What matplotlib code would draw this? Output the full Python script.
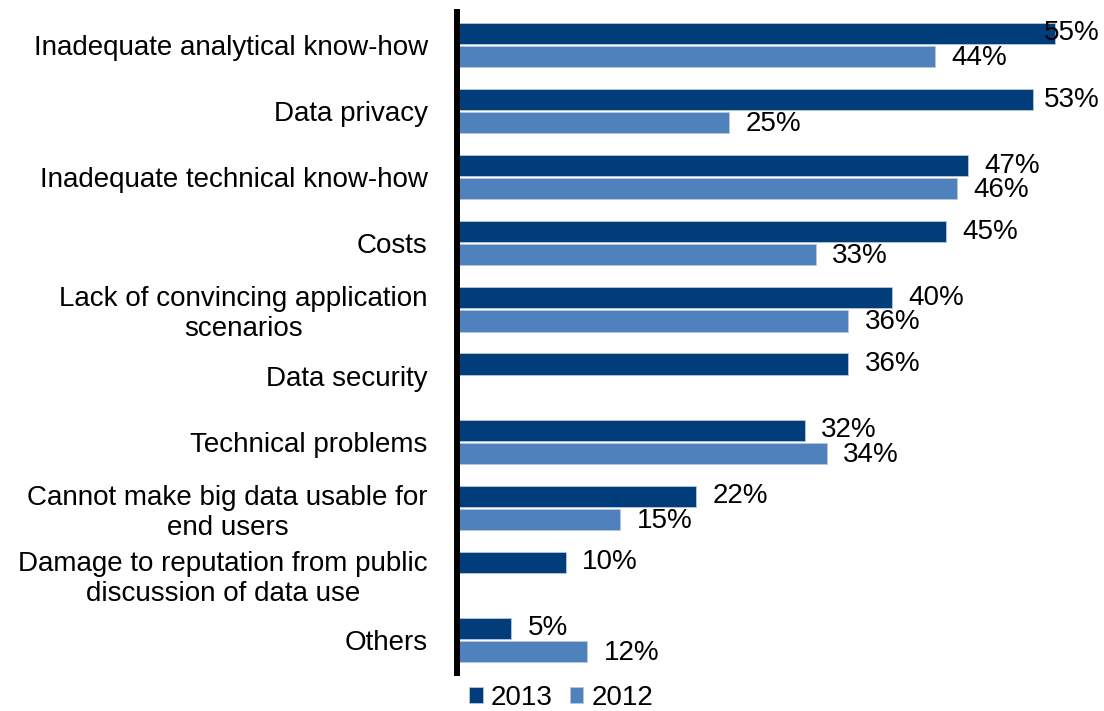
import matplotlib
matplotlib.use("Agg")
import matplotlib.pyplot as plt
import numpy as np

plt.rcParams["font.family"] = ["Liberation Sans", "DejaVu Sans"]

categories = [
    "Inadequate analytical know-how",
    "Data privacy",
    "Inadequate technical know-how",
    "Costs",
    "Lack of convincing application\nscenarios",
    "Data security",
    "Technical problems",
    "Cannot make big data usable for\nend users",
    "Damage to reputation from public\ndiscussion of data use",
    "Others",
]
values_2013 = [55, 53, 47, 45, 40, 36, 32, 22, 10, 5]
values_2012 = [44, 25, 46, 33, 36, None, 34, 15, None, 12]

dark = "#023d7b"
light = "#4f81bd"

fig = plt.figure(figsize=(11.04, 7.11), dpi=100)
ax = fig.add_axes([457 / 1104, 38 / 711, 647 / 1104, 661 / 711])

y = np.arange(len(categories))
h = 0.32
gap = 0.015
xmax = 59.5

ax.barh(y - h / 2 - gap, values_2013, height=h, color=dark,
        edgecolor="#b8c8dc", linewidth=0.6, label="2013")
vals12 = [v if v is not None else 0 for v in values_2012]
bars12 = ax.barh(y + h / 2 + gap, vals12, height=h, color=light,
                 edgecolor="#b8c8dc", linewidth=0.6, label="2012")
for b, v in zip(bars12, values_2012):
    if v is None:
        b.set_visible(False)

# value labels next to the bar ends
for yi, v in zip(y, values_2013):
    x = min(v + 1.5, xmax - 5.5)
    ax.text(x, yi - h / 2 - gap, f"{v}%", va="center", ha="left", fontsize=20)
for yi, v in zip(y, values_2012):
    if v is None:
        continue
    ax.text(v + 1.5, yi + h / 2 + gap + 0.02, f"{v}%", va="center", ha="left",
            fontsize=20)

ax.set_xlim(0, xmax)
ax.set_ylim(len(categories) - 0.5, -0.5)
ax.set_yticks(y)
ax.set_yticklabels(categories, fontsize=20, ha="right", multialignment="center")
ax.tick_params(axis="y", length=0, pad=21)
ax.set_xticks([])
for s in ["top", "right", "bottom"]:
    ax.spines[s].set_visible(False)
ax.spines["left"].set_linewidth(4.3)
ax.spines["left"].set_color("black")

ax.legend(loc="center left", bbox_to_anchor=(466 / 1104, 1 - 698 / 711),
          bbox_transform=fig.transFigure, ncol=2, frameon=False,
          fontsize=20, handlelength=0.5, handleheight=0.5, handletextpad=0.3,
          columnspacing=0.6, borderaxespad=0, borderpad=0.1)

fig.savefig("out.png", dpi=100)
